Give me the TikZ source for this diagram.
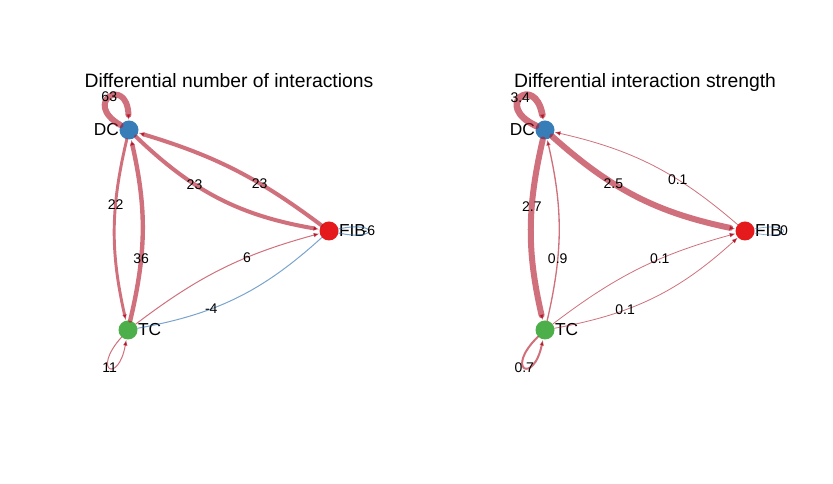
\documentclass[tikz,border=0pt]{standalone}
\usepackage{fontspec}
\setmainfont{Liberation Sans}
\usetikzlibrary{arrows.meta, positioning}

\definecolor{dcblue}{HTML}{377EB8}
\definecolor{fibred}{HTML}{E41A1C}
\definecolor{tcgreen}{HTML}{4DAF4A}
\definecolor{gainred}{HTML}{B2182B}
\definecolor{lossblue}{HTML}{2166AC}

\begin{document}
\begin{tikzpicture}[x=0.75pt, y=0.75pt, line join=round, line cap=round]
   % Styles
   \tikzset{
    v/.style={circle, inner sep=0pt, minimum size=14.25pt},
    every label/.style={font=\fontsize{13}{15}\selectfont, inner sep=0pt},
    label distance=0pt,
    gain/.style={draw=gainred, draw opacity=0.62},
    loss/.style={draw=lossblue, draw opacity=0.6},
    headtip/.style={-{Latex[length=4.5pt, width=3.5pt]}},
    elab/.style={font=\fontsize{10.5}{12}\selectfont, inner sep=0pt},
    ttl/.style={font=\fontsize{14.5}{17}\selectfont, anchor=base}
   }
  \useasboundingbox (0,0) rectangle (833,484);
  % Titles
  \node[ttl] (ttlL) at (229,396) {Differential number of interactions};
  \node[ttl] (ttlR) at (645,396) {Differential interaction strength};
  % Nodes (left)
  \node[v, fill=dcblue, label=left:DC]    (dcL) at (129,354) {};
  \node[v, fill=fibred, label=right:FIB]  (fibL) at (329,253) {};
  \node[v, fill=tcgreen, label=right:TC]  (tcL) at (128,154) {};
  % Nodes (right)
  \node[v, fill=dcblue, label=left:DC]    (dcR) at (545,354) {};
  \node[v, fill=fibred, label=right:FIB]  (fibR) at (745,253) {};
  \node[v, fill=tcgreen, label=right:TC]  (tcR) at (545,154) {};
  % Edges (left: number)
  \draw[gain, line width=3pt, headtip] (dcL) to[bend right=17] node[elab, pos=0.35] {23} (fibL);
  \draw[gain, line width=3pt, headtip] (fibL) to[bend right=10] node[elab, pos=0.35] {23} (dcL);
  \draw[gain, line width=2.2pt, headtip] (dcL) to[bend right=13] node[elab, pos=0.35] {22} (tcL);
  \draw[gain, line width=3.3pt, headtip] (tcL) to[bend right=13] node[elab, pos=0.33] {36} (dcL);
  \draw[gain, line width=0.75pt, headtip] (tcL) to[bend left=11] node[elab, pos=0.64] {6} (fibL);
  \draw[loss, line width=0.75pt] (tcL) to[bend right=16] node[elab, pos=0.355] {-4} (fibL);
  \draw[gain, line width=4.5pt, headtip] (dcL) to[out=150, in=92, min distance=34pt] node[elab, midway] {63} (dcL);
  \draw[gain, line width=0.75pt, headtip] (tcL) to[out=228, in=260, min distance=34pt] node[elab, midway] {11} (tcL);
  \draw[loss, line width=0.75pt] (fibL) to[out=12, in=-12, min distance=31pt] node[elab, midway] {-6} (fibL);
  % Edges (right: strength)
  \draw[gain, line width=4.5pt, headtip] (dcR) to[bend right=15] node[elab, pos=0.36] {2.5} (fibR);
  \draw[gain, line width=0.6pt, headtip] (fibR) to[bend right=14] node[elab, pos=0.35] {0.1} (dcR);
  \draw[gain, line width=4.5pt, headtip] (dcR) to[bend right=13] node[elab, pos=0.36] {2.7} (tcR);
  \draw[gain, line width=1pt, headtip] (tcR) to[bend right=13] node[elab, pos=0.33] {0.9} (dcR);
  \draw[gain, line width=0.6pt, headtip] (tcR) to[bend left=11] node[elab, pos=0.62] {0.1} (fibR);
  \draw[gain, line width=0.6pt, headtip] (tcR) to[bend right=16] node[elab, pos=0.34] {0.1} (fibR);
  \draw[gain, line width=5pt, headtip] (dcR) to[out=155, in=100, min distance=36pt] node[elab, midway] {3.4} (dcR);
  \draw[gain, line width=1.5pt, headtip] (tcR) to[out=224, in=258, min distance=35pt] node[elab, midway] {0.7} (tcR);
  \draw[loss, line width=0.5pt] (fibR) to[out=12, in=-12, min distance=30pt] node[elab, midway] {0} (fibR);
\end{tikzpicture}
\end{document}
